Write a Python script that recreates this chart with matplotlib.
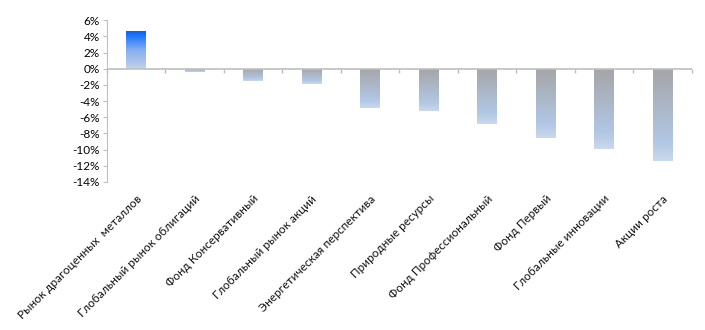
import matplotlib
matplotlib.use('Agg')
import matplotlib.pyplot as plt
from matplotlib.colors import LinearSegmentedColormap
from matplotlib.ticker import FuncFormatter, NullFormatter
import numpy as np

plt.rcParams['font.family'] = ['Lato', 'DejaVu Sans']

funds = [
    'Рынок драгоценных  металлов',
    'Глобальный рынок облигаций',
    'Фонд Консервативный',
    'Глобальный рынок акций',
    'Энергетическая перспектива',
    'Природные ресурсы',
    'Фонд Профессиональный',
    'Фонд Первый',
    'Глобальные инновации',
    'Акции роста',
]
returns = [4.6, -0.4, -1.5, -1.9, -4.9, -5.2, -6.8, -8.6, -9.9, -11.4]
y_ticks = [6, 4, 2, 0, -2, -4, -6, -8, -10, -12, -14]

AXIS_GREY = '#bfbfbf'
BAR_WIDTH = 0.33

# gradient: 0 = zero line end, 1 = far end of the bar
pos_cmap = LinearSegmentedColormap.from_list(
    'pos', [(0.0, '#c3d2e6'), (0.5, '#86aef0'), (1.0, '#0063ff')])
neg_cmap = LinearSegmentedColormap.from_list(
    'neg', [(0.0, '#a5a5a7'), (0.8, '#b1c7e4'), (1.0, '#cbd9ec')])

fig = plt.figure(figsize=(7.05, 3.3), dpi=100)
ax = fig.add_axes([0.1513, 0.4485, 0.8297, 0.4905])

x = np.arange(len(funds))
bars = ax.bar(x, returns, width=BAR_WIDTH, color='none', edgecolor='none', zorder=2)

grad = np.linspace(0, 1, 256).reshape(-1, 1)
for bar, val in zip(bars, returns):
    x0 = bar.get_x()
    x1 = x0 + bar.get_width()
    cmap = pos_cmap if val >= 0 else neg_cmap
    img = ax.imshow(grad, cmap=cmap, aspect='auto', origin='lower',
                    extent=[x0, x1, 0, val], zorder=2)
    img.set_clip_path(bar)

ax.set_xlim(-0.5, len(funds) - 0.5)
ax.set_ylim(-14, 6)
ax.set_yticks(y_ticks)
ax.yaxis.set_major_formatter(FuncFormatter(lambda v, p: f'{v:.0f}%'))

ax.axhline(0, color=AXIS_GREY, lw=1.2, zorder=3)

# category labels under the plot, tick marks on the zero line
ax.set_xticks(x)
ax.set_xticklabels(funds, rotation=45, ha='right', rotation_mode='anchor',
                   fontsize=8.5, color='#111111')
ax.tick_params(axis='x', length=0, pad=8)
ax.tick_params(axis='y', length=3, color=AXIS_GREY, labelsize=8.5, pad=2)

zero_axis = ax.secondary_xaxis(14 / 20)
zero_axis.set_xticks(np.arange(len(funds) + 1) - 0.5)
zero_axis.xaxis.set_major_formatter(NullFormatter())
zero_axis.xaxis.set_ticks_position('bottom')
zero_axis.tick_params(axis='x', length=3, width=1, color=AXIS_GREY, direction='out',
                      labelbottom=False, labeltop=False)
zero_axis.spines['bottom'].set_visible(False)
zero_axis.spines['top'].set_visible(False)

for side in ['top', 'right', 'bottom']:
    ax.spines[side].set_visible(False)
ax.spines['left'].set_color(AXIS_GREY)

fig.savefig('out.png', dpi=100)
